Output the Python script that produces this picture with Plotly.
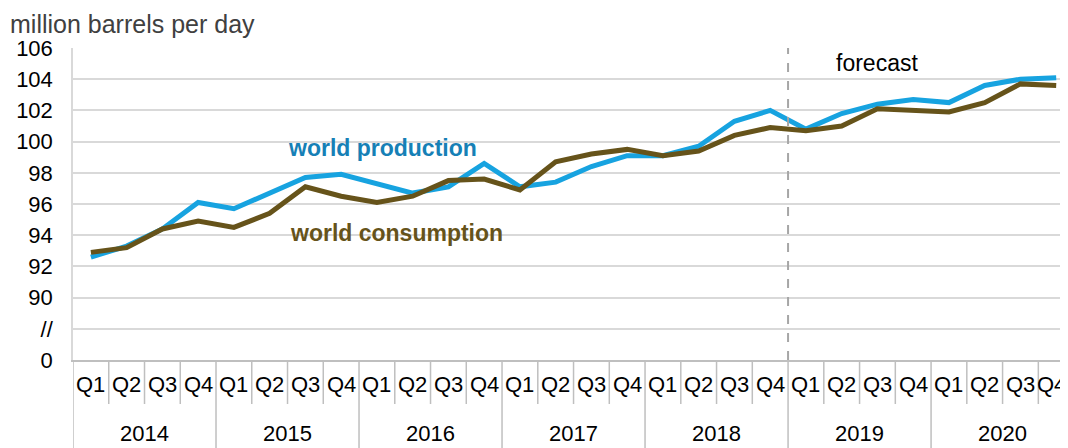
import plotly.graph_objects as go

# ── data ──────────────────────────────────────────────
YEARS = ["2014", "2015", "2016", "2017", "2018", "2019", "2020"]
QUARTERS = ["Q1", "Q2", "Q3", "Q4"]

production = [
    92.6, 93.3, 94.4, 96.1,
    95.7, 96.7, 97.7, 97.9,
    97.3, 96.7, 97.1, 98.6,
    97.1, 97.4, 98.4, 99.1,
    99.1, 99.7, 101.3, 102.0,
    100.8, 101.8, 102.4, 102.7,
    102.5, 103.6, 104.0, 104.1,
]
consumption = [
    92.9, 93.2, 94.4, 94.9,
    94.5, 95.4, 97.1, 96.5,
    96.1, 96.5, 97.5, 97.6,
    96.9, 98.7, 99.2, 99.5,
    99.1, 99.4, 100.4, 100.9,
    100.7, 101.0, 102.1, 102.0,
    101.9, 102.5, 103.7, 103.6,
]

# broken axis: 86 stands for "0", 88 for the break mark
y_tickvals = [86, 88, 90, 92, 94, 96, 98, 100, 102, 104, 106]
y_ticktext = ["0", "//", "90", "92", "94", "96", "98", "100", "102", "104", "106"]

COLORS = {
    "prod": "#17A3E0",
    "prod_text": "#1680B6",
    "cons": "#66531A",
    "grid": "#D9D9D9",
    "divider": "#BFBFBF",
    "forecast": "#A6A6A6",
}
FONT = "Liberation Sans, Arial, sans-serif"

# the page body adds an 8px offset, so the figure is 8px smaller than the window
W, H = 1060, 440
M = dict(l=65, r=0, t=40, b=88)
plot_h = H - M["t"] - M["b"]

n = len(production)
x = list(range(n))

fig = go.Figure()
fig.add_trace(go.Scatter(
    x=x, y=production, mode="lines", name="world production",
    line=dict(color=COLORS["prod"], width=5), cliponaxis=False,
))
fig.add_trace(go.Scatter(
    x=x, y=consumption, mode="lines", name="world consumption",
    line=dict(color=COLORS["cons"], width=5), cliponaxis=False,
))

# category labels (two rows) and table dividers
annotations = []
shapes = []
for i in range(n):
    annotations.append(dict(
        x=i, y=-24 / plot_h, xref="x", yref="paper", yanchor="middle",
        text=QUARTERS[i % 4], showarrow=False,
        xshift=-5 if i == n - 1 else 0,
        font=dict(size=22, color="#000000", family=FONT),
    ))
    y1 = -90 / plot_h if i % 4 == 0 else -44 / plot_h
    shapes.append(dict(
        type="line", xref="x", yref="paper",
        x0=i - 0.5, x1=i - 0.5, y0=0, y1=y1,
        line=dict(color=COLORS["divider"], width=1.5),
    ))
for k, yr in enumerate(YEARS):
    annotations.append(dict(
        x=4 * k + 1.5, y=-73 / plot_h, xref="x", yref="paper", yanchor="middle",
        text=yr, showarrow=False,
        font=dict(size=22, color="#000000", family=FONT),
    ))

# forecast marker
shapes.append(dict(
    type="line", xref="x", yref="paper",
    x0=19.5, x1=19.5, y0=0, y1=1,
    line=dict(color=COLORS["forecast"], width=2, dash="dash"),
))
annotations.append(dict(
    x=22.0, y=105.05, xref="x", yref="y", text="forecast", showarrow=False,
    font=dict(size=23, color="#000000", family=FONT),
))

# series labels
annotations.append(dict(
    x=8.15, y=99.6, xref="x", yref="y", text="<b>world production</b>",
    showarrow=False, font=dict(size=23, color=COLORS["prod_text"], family=FONT),
))
annotations.append(dict(
    x=8.55, y=94.15, xref="x", yref="y", text="<b>world consumption</b>",
    showarrow=False, font=dict(size=23, color=COLORS["cons"], family=FONT),
))

fig.update_layout(
    width=W, height=H,
    margin=dict(**M, autoexpand=False),
    paper_bgcolor="white", plot_bgcolor="white",
    showlegend=False,
    font=dict(family=FONT, size=22, color="#000000"),
    title=dict(
        text="million barrels per day", x=2 / W, xanchor="left",
        y=1 - 16 / H, yanchor="middle", xref="container", yref="container",
        font=dict(size=25, color="#404040", family=FONT),
    ),
    xaxis=dict(
        range=[-0.5, 27.33], showticklabels=False, showgrid=False,
        zeroline=False, showline=True, linecolor=COLORS["divider"], linewidth=1.5,
        fixedrange=True,
    ),
    yaxis=dict(
        range=[86, 106], tickvals=y_tickvals, ticktext=y_ticktext,
        showgrid=True, gridcolor=COLORS["grid"], gridwidth=1.5,
        zeroline=False, showline=True, linecolor=COLORS["grid"], linewidth=1.5,
        ticks="outside", ticklen=14, tickcolor="rgba(0,0,0,0)",
        tickfont=dict(size=22, color="#000000", family=FONT),
    ),
    annotations=annotations,
    shapes=shapes,
)

fig.write_html("out.html")
